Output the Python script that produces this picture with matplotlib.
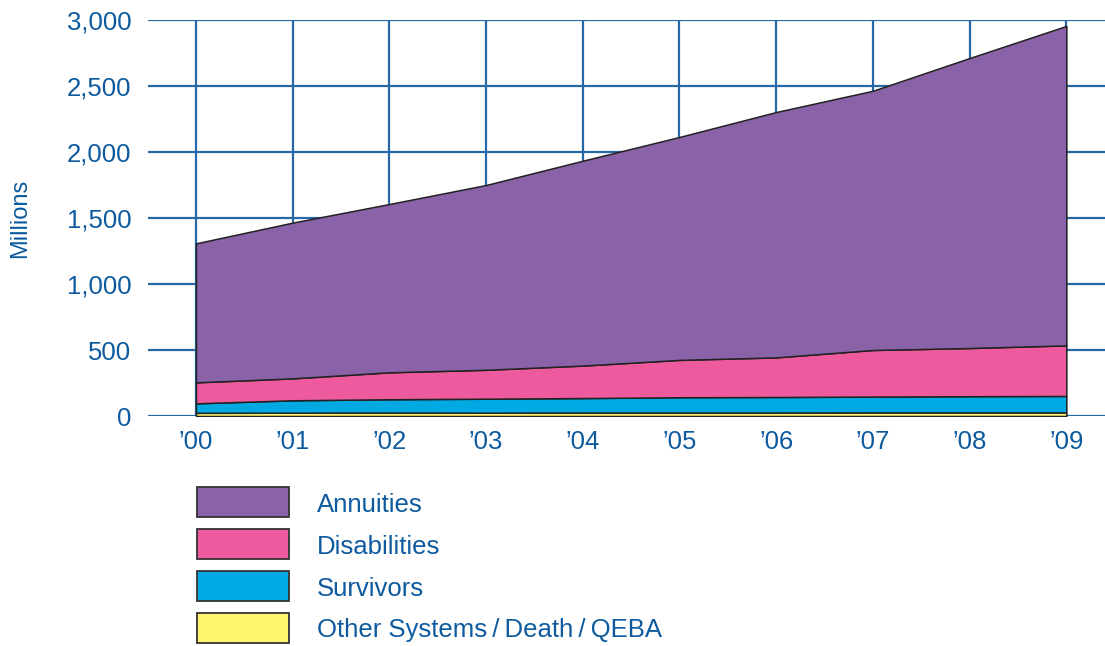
import matplotlib
matplotlib.use("Agg")
import matplotlib.pyplot as plt
from matplotlib.patches import Rectangle
import numpy as np

plt.rcParams['font.family'] = ['Liberation Sans', 'DejaVu Sans']

years = ["\u201900", "\u201901", "\u201902", "\u201903", "\u201904",
         "\u201905", "\u201906", "\u201907", "\u201908", "\u201909"]
other = [24, 25, 26, 25, 26, 26, 26, 27, 27, 27]
survivors = [72, 94, 101, 106, 110, 116, 118, 120, 123, 125]
disabilities = [159, 166, 204, 219, 246, 283, 300, 353, 365, 383]
annuities = [1053, 1180, 1275, 1400, 1552, 1689, 1859, 1964, 2197, 2420]
labels = ["Annuities", "Disabilities", "Survivors", "Other Systems\u2009/\u2009Death\u2009/\u2009QEBA"]
yticks = [0, 500, 1000, 1500, 2000, 2500, 3000]

colors = {"Annuities": "#8A62A8", "Disabilities": "#EE5A9E",
          "Survivors": "#00A9E2", "Other": "#FFF46E"}
text_color = "#0D5A9E"
grid_color = "#2668A8"

W, H = 1105, 646
fig = plt.figure(figsize=(W / 100, H / 100), dpi=100)
ax = fig.add_axes([148 / W, 1 - 416 / H, (1105 - 148) / W, (416 - 20) / H])

x = np.arange(len(years))
ax.set_xlim(-0.496, 9.40)
ax.set_ylim(0, 3000)

# grid
for yt in yticks:
    ax.axhline(yt, color=grid_color, lw=1.6, zorder=1)
ax.vlines(x, 0, 3000, color=grid_color, lw=1.6, zorder=1)

ax.stackplot(x, other, survivors, disabilities, annuities,
             colors=[colors["Other"], colors["Survivors"], colors["Disabilities"], colors["Annuities"]],
             edgecolor="#222222", linewidth=1.1, zorder=2)

for s in ax.spines.values():
    s.set_visible(False)
ax.set_yticks(yticks)
ax.set_yticklabels([f"{v:,}" for v in yticks])
ax.set_xticks(x)
ax.set_xticklabels(years)
ax.tick_params(axis='y', length=0, pad=12, labelsize=18.5, labelcolor=text_color)
ax.tick_params(axis='x', length=0, pad=10, labelsize=18.5, labelcolor=text_color)

fig.text(20 / W, 1 - 218 / H, "Millions", rotation=90, ha="center", va="center",
         fontsize=17, color=text_color)

# legend
leg_colors = [colors["Annuities"], colors["Disabilities"], colors["Survivors"], colors["Other"]]
centers = [502, 544, 586, 628]
for lab, c, cy in zip(labels, leg_colors, centers):
    fig.patches.append(Rectangle((197 / W, 1 - (cy + 15) / H), 92 / W, 30 / H,
                                 transform=fig.transFigure, facecolor=c,
                                 edgecolor="#333333", lw=1.3))
    fig.text(317 / W, 1 - cy / H, lab, ha="left", va="center_baseline",
             fontsize=18.5, color=text_color)

fig.savefig("out.png", dpi=100)
